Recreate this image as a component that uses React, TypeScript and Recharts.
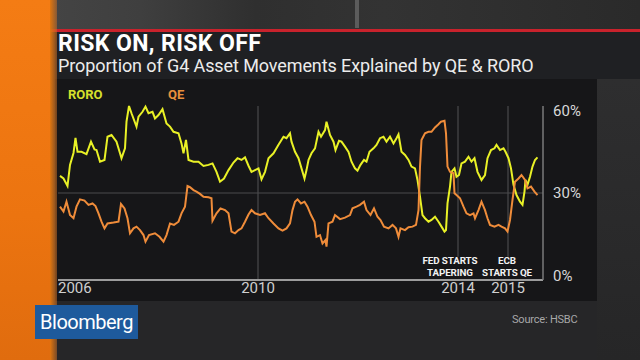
import React from "react";
import { LineChart, Line, XAxis, YAxis, ReferenceLine } from "recharts";

// [year, % of G4 asset movements explained]
const roroSeries: [number, number][] = [
  [2006.04, 35.9], [2006.11, 35], [2006.19, 32.4], [2006.24, 39.7], [2006.31, 43.8], [2006.35, 49],
  [2006.39, 44.2], [2006.47, 44.2], [2006.57, 43.4], [2006.66, 47.7], [2006.73, 45], [2006.77, 44.8],
  [2006.84, 40.8], [2006.93, 41.4], [2006.99, 49.4], [2007.07, 50], [2007.17, 47.7], [2007.24, 43.7],
  [2007.27, 42], [2007.34, 45.4], [2007.37, 54.6], [2007.42, 60], [2007.47, 57.5], [2007.57, 52.9],
  [2007.61, 56.3], [2007.69, 58], [2007.75, 59.8], [2007.81, 57.5], [2007.89, 58], [2007.94, 55.7],
  [2008.01, 56.9], [2008.09, 58.9], [2008.17, 54], [2008.24, 52.9], [2008.31, 51.1], [2008.41, 50.6],
  [2008.47, 47.1], [2008.51, 43.7], [2008.56, 48.3], [2008.61, 41.4], [2008.71, 40.8], [2008.81, 40.8],
  [2008.91, 39.3], [2009.01, 39.7], [2009.09, 40.2], [2009.17, 37.3], [2009.24, 33.9], [2009.32, 35],
  [2009.41, 37.9], [2009.51, 40.5], [2009.59, 42], [2009.67, 41.4], [2009.74, 42.3], [2009.81, 39.4],
  [2009.87, 37.3], [2009.94, 37.9], [2010.01, 38.5], [2010.07, 34.7], [2010.14, 37.3], [2010.21, 42],
  [2010.31, 43.7], [2010.41, 46.6], [2010.51, 49.4], [2010.57, 48.9], [2010.64, 50.6], [2010.67, 47.7],
  [2010.74, 44.2], [2010.81, 42], [2010.87, 38.5], [2010.93, 35], [2010.97, 37.9], [2011.01, 41.4],
  [2011.07, 43.7], [2011.14, 45.4], [2011.21, 51.1], [2011.26, 49.4], [2011.34, 51.7], [2011.37, 54.6],
  [2011.44, 50], [2011.51, 47.7], [2011.55, 44.8], [2011.62, 48], [2011.67, 47.7], [2011.74, 46],
  [2011.81, 44.2], [2011.87, 40.8], [2011.94, 38.5], [2011.99, 37.7], [2012.05, 39.7], [2012.12, 41.4],
  [2012.17, 40.8], [2012.23, 44.2], [2012.31, 45.4], [2012.37, 46.6], [2012.44, 48.9], [2012.51, 49.4],
  [2012.57, 47.7], [2012.64, 49.4], [2012.71, 47.1], [2012.77, 48.9], [2012.81, 50.2], [2012.87, 44.2],
  [2012.94, 43.1], [2013.01, 41.4], [2013.07, 39.1], [2013.14, 38.5], [2013.19, 34.5], [2013.24, 28.7],
  [2013.29, 22.4], [2013.34, 21.3], [2013.41, 20.1], [2013.47, 20.7], [2013.54, 21.8], [2013.61, 20.1],
  [2013.67, 18.4], [2013.73, 16.7], [2013.76, 17.2], [2013.79, 26.4], [2013.84, 32.2], [2013.87, 37.3],
  [2013.93, 38.5], [2013.97, 35.6], [2014.02, 36.2], [2014.07, 40.2], [2014.14, 40.8], [2014.21, 42.5],
  [2014.27, 40.8], [2014.33, 42], [2014.39, 37.3], [2014.47, 34.5], [2014.54, 36.2], [2014.59, 42],
  [2014.66, 44.8], [2014.73, 45.4], [2014.77, 46.6], [2014.84, 44.8], [2014.91, 45.4], [2014.95, 44.2],
  [2015.01, 42], [2015.06, 38.5], [2015.11, 32.8], [2015.17, 29.3], [2015.24, 27], [2015.29, 25.9],
  [2015.33, 30.5], [2015.35, 34.5], [2015.39, 32.8], [2015.44, 35.6], [2015.49, 39.1], [2015.54, 41.4],
  [2015.59, 42.3],
];

const qeSeries: [number, number][] = [
  [2006.04, 25.3], [2006.11, 23.6], [2006.17, 27], [2006.24, 22.4], [2006.31, 21.3], [2006.37, 25.3],
  [2006.44, 27.8], [2006.53, 27.4], [2006.61, 25.9], [2006.69, 26.4], [2006.75, 25.5], [2006.81, 23],
  [2006.87, 20.1], [2006.93, 17.8], [2006.99, 19.5], [2007.11, 19.8], [2007.21, 20.1], [2007.26, 26.2],
  [2007.33, 24.7], [2007.39, 21.3], [2007.44, 16.1], [2007.51, 17.8], [2007.57, 18.4], [2007.64, 17.2],
  [2007.71, 15.5], [2007.75, 13.2], [2007.82, 15.5], [2007.94, 16.1], [2008.03, 14.9], [2008.11, 13.2],
  [2008.17, 15.5], [2008.24, 19.5], [2008.32, 19], [2008.41, 20.1], [2008.47, 23], [2008.54, 25.3],
  [2008.59, 32.4], [2008.64, 32], [2008.71, 31], [2008.77, 30.5], [2008.84, 29.7], [2008.91, 28.7],
  [2009.01, 28.5], [2009.07, 28.2], [2009.09, 20.4], [2009.17, 23], [2009.25, 24.7], [2009.34, 24.1],
  [2009.41, 23], [2009.47, 16.7], [2009.54, 16.1], [2009.61, 17.2], [2009.67, 17.8], [2009.74, 20.1],
  [2009.81, 22.6], [2009.87, 24.1], [2009.94, 23], [2010.04, 22.4], [2010.14, 23], [2010.21, 21.3],
  [2010.31, 19.5], [2010.41, 17.8], [2010.49, 17], [2010.57, 17.8], [2010.64, 19.5], [2010.69, 24.1],
  [2010.74, 27], [2010.79, 27.8], [2010.86, 26.4], [2010.93, 27], [2010.99, 25.3], [2011.06, 22.4],
  [2011.13, 20.1], [2011.17, 14.9], [2011.24, 15.5], [2011.29, 12.6], [2011.35, 13.8], [2011.37, 11.5],
  [2011.41, 19.5], [2011.49, 20.1], [2011.54, 22.4], [2011.64, 21], [2011.74, 21.5], [2011.84, 22.4],
  [2011.89, 24.7], [2011.97, 25.3], [2012.04, 25.9], [2012.12, 27], [2012.17, 24.1], [2012.25, 22.4],
  [2012.32, 24.7], [2012.39, 21.8], [2012.45, 20.7], [2012.52, 18.4], [2012.61, 17.8], [2012.69, 19],
  [2012.76, 17.8], [2012.81, 14.9], [2012.85, 17.8], [2012.94, 17.2], [2013.01, 18.2], [2013.09, 18.4],
  [2013.16, 19], [2013.21, 24.1], [2013.24, 39.1], [2013.27, 48.3], [2013.34, 50.6], [2013.41, 51.1],
  [2013.47, 51.1], [2013.54, 52.6], [2013.61, 53.7], [2013.66, 54.6], [2013.73, 54.9], [2013.76, 50.6],
  [2013.79, 39.1], [2013.84, 37.3], [2013.91, 36.8], [2013.93, 29.9], [2013.97, 29.3], [2014.04, 28.2],
  [2014.11, 25.3], [2014.17, 23], [2014.24, 22.4], [2014.31, 23], [2014.34, 21.3], [2014.41, 24.1],
  [2014.47, 27], [2014.54, 24.1], [2014.59, 21.3], [2014.64, 19], [2014.73, 18.4], [2014.81, 19],
  [2014.87, 18.4], [2014.94, 17.8], [2014.99, 16.7], [2015.04, 20.7], [2015.09, 27.6], [2015.14, 33.9],
  [2015.21, 35], [2015.27, 36.2], [2015.34, 34.5], [2015.39, 31.6], [2015.46, 32.2], [2015.53, 30.5],
  [2015.59, 29.3],
];

const yearTicks = [2006, 2010, 2014, 2015];
const pctTicks = [0, 30, 60];
const eventLines = [2014, 2015];

const roroData = roroSeries.map(([t, v]) => ({ t, v }));
const qeData = qeSeries.map(([t, v]) => ({ t, v }));

const FONT = "Roboto, 'Noto Sans', sans-serif";
const YELLOW = "#e9f126";
const ORANGE = "#ef8c3a";

function YearTick({ x, y, payload }: any) {
  const first = payload.value === yearTicks[0];
  return (
    <text x={x} y={y} dy="0.71em" textAnchor={first ? "start" : "middle"} fill="#cfcfcf" fontSize={15} fontFamily={FONT}>
      {payload.value}
    </text>
  );
}

function PctTick({ x, y, payload }: any) {
  const shift = payload.value === 60 ? 5 : payload.value === 0 ? -4 : 0;
  return (
    <text x={x} y={y + shift} dy="0.35em" textAnchor="start" fill="#d8d8d8" fontSize={15} fontFamily={FONT}>
      {payload.value}%
    </text>
  );
}

const abs = (s: React.CSSProperties): React.CSSProperties => ({ position: "absolute", ...s });

const noteStyle: React.CSSProperties = {
  position: "absolute",
  width: 100,
  textAlign: "center",
  fontSize: 9.8,
  fontWeight: 700,
  color: "#f2f2f2",
  lineHeight: "11px",
  letterSpacing: -0.1,
  whiteSpace: "nowrap",
};

export default function App() {
  return (
    <div style={{ position: "absolute", left: 0, top: 0, width: 640, height: 360, overflow: "hidden", background: "#262628", fontFamily: FONT }}>
      {/* studio backdrop */}
      <div style={abs({ left: 0, top: 0, width: 640, height: 29, background: "linear-gradient(90deg, #474747 0%, #3f3f3f 22%, #2f2f2f 40%, #333 60%, #2a2a2a 100%)" })} />
      <div style={abs({ left: 355, top: 0, width: 4, height: 28, background: "#5c5c5c" })} />
      <div style={abs({ left: 0, top: 29, width: 640, height: 3, background: "#c9222c" })} />
      <div style={abs({ left: 55, top: 32, width: 585, height: 47, background: "#1f2023" })} />
      <div style={abs({ left: 597, top: 79, width: 43, height: 281, background: "linear-gradient(180deg, #2e2e2f, #262627)" })} />
      <div style={abs({ left: 55, top: 79, width: 542, height: 222, background: "#161618" })} />
      <div style={abs({ left: 0, top: 0, width: 50, height: 360, background: "linear-gradient(180deg, #f47c14, #ec7410 60%, #e06c0e)" })} />
      <div style={abs({ left: 50, top: 0, width: 7, height: 360, background: "linear-gradient(90deg, #e0760f, rgba(200,110,40,0.5))" })} />

      <div style={abs({ left: 58, top: 32, fontSize: 23, fontWeight: 700, color: "#ffffff", letterSpacing: 0.4, lineHeight: "24px", whiteSpace: "nowrap" })}>
        RISK ON, RISK OFF
      </div>
      <div style={abs({ left: 58, top: 56, fontSize: 18, color: "#ececec", letterSpacing: -0.1, lineHeight: "20px", whiteSpace: "nowrap" })}>
        Proportion of G4 Asset Movements Explained by QE &amp; RORO
      </div>

      <div style={abs({ left: 68, top: 87, fontSize: 13, fontWeight: 700, color: "#d6e02c", lineHeight: "16px" })}>RORO</div>
      <div style={abs({ left: 168, top: 87, fontSize: 13, fontWeight: 700, color: "#e8903c", lineHeight: "16px" })}>QE</div>

      <div style={abs({ left: 0, top: 0 })}>
        <LineChart width={640} height={360} margin={{ top: 106, right: 47, bottom: 50, left: 58 }}>
          <XAxis
            dataKey="t"
            type="number"
            domain={[2006, 2015.7]}
            ticks={yearTicks}
            tick={<YearTick />}
            tickLine={false}
            tickSize={0}
            tickMargin={2}
            height={30}
            axisLine={{ stroke: "#9c9c9c", strokeWidth: 2 }}
            allowDataOverflow
          />
          <YAxis
            orientation="right"
            type="number"
            domain={[0, 60]}
            ticks={pctTicks}
            tick={<PctTick />}
            tickLine={false}
            tickSize={0}
            tickMargin={10}
            width={50}
            axisLine={{ stroke: "#7a7a7a", strokeWidth: 1.5 }}
          />
          <ReferenceLine y={30} stroke="#4a4a4c" strokeWidth={1.2} />
          <ReferenceLine x={2010} stroke="#4a4a4c" strokeWidth={1.2} />
          {eventLines.map((yr) => (
            <ReferenceLine
              key={yr}
              segment={[{ x: yr, y: 60 }, { x: yr, y: 8 }]}
              stroke="#4a4a4c"
              strokeWidth={1.2}
            />
          ))}
          <Line data={roroData} dataKey="v" type="linear" stroke={YELLOW} strokeWidth={2} dot={false} isAnimationActive={false} />
          <Line data={qeData} dataKey="v" type="linear" stroke={ORANGE} strokeWidth={2} dot={false} isAnimationActive={false} />
        </LineChart>
      </div>

      <div style={{ ...noteStyle, left: 400, top: 255 }}>FED STARTS</div>
      <div style={{ ...noteStyle, left: 400, top: 266.5 }}>TAPERING</div>
      <div style={{ ...noteStyle, left: 457, top: 255 }}>ECB</div>
      <div style={{ ...noteStyle, left: 457, top: 266.5 }}>STARTS QE</div>

      <div style={abs({ left: 35, top: 305, width: 103, height: 34, background: "#1e5a9c", color: "#fff", fontSize: 20, lineHeight: "34px", textAlign: "center", letterSpacing: -0.5 })}>
        Bloomberg
      </div>
      <div style={abs({ left: 512, top: 313, fontSize: 11, color: "#a8a8a8", letterSpacing: -0.2, whiteSpace: "nowrap" })}>
        Source: HSBC
      </div>
    </div>
  );
}
